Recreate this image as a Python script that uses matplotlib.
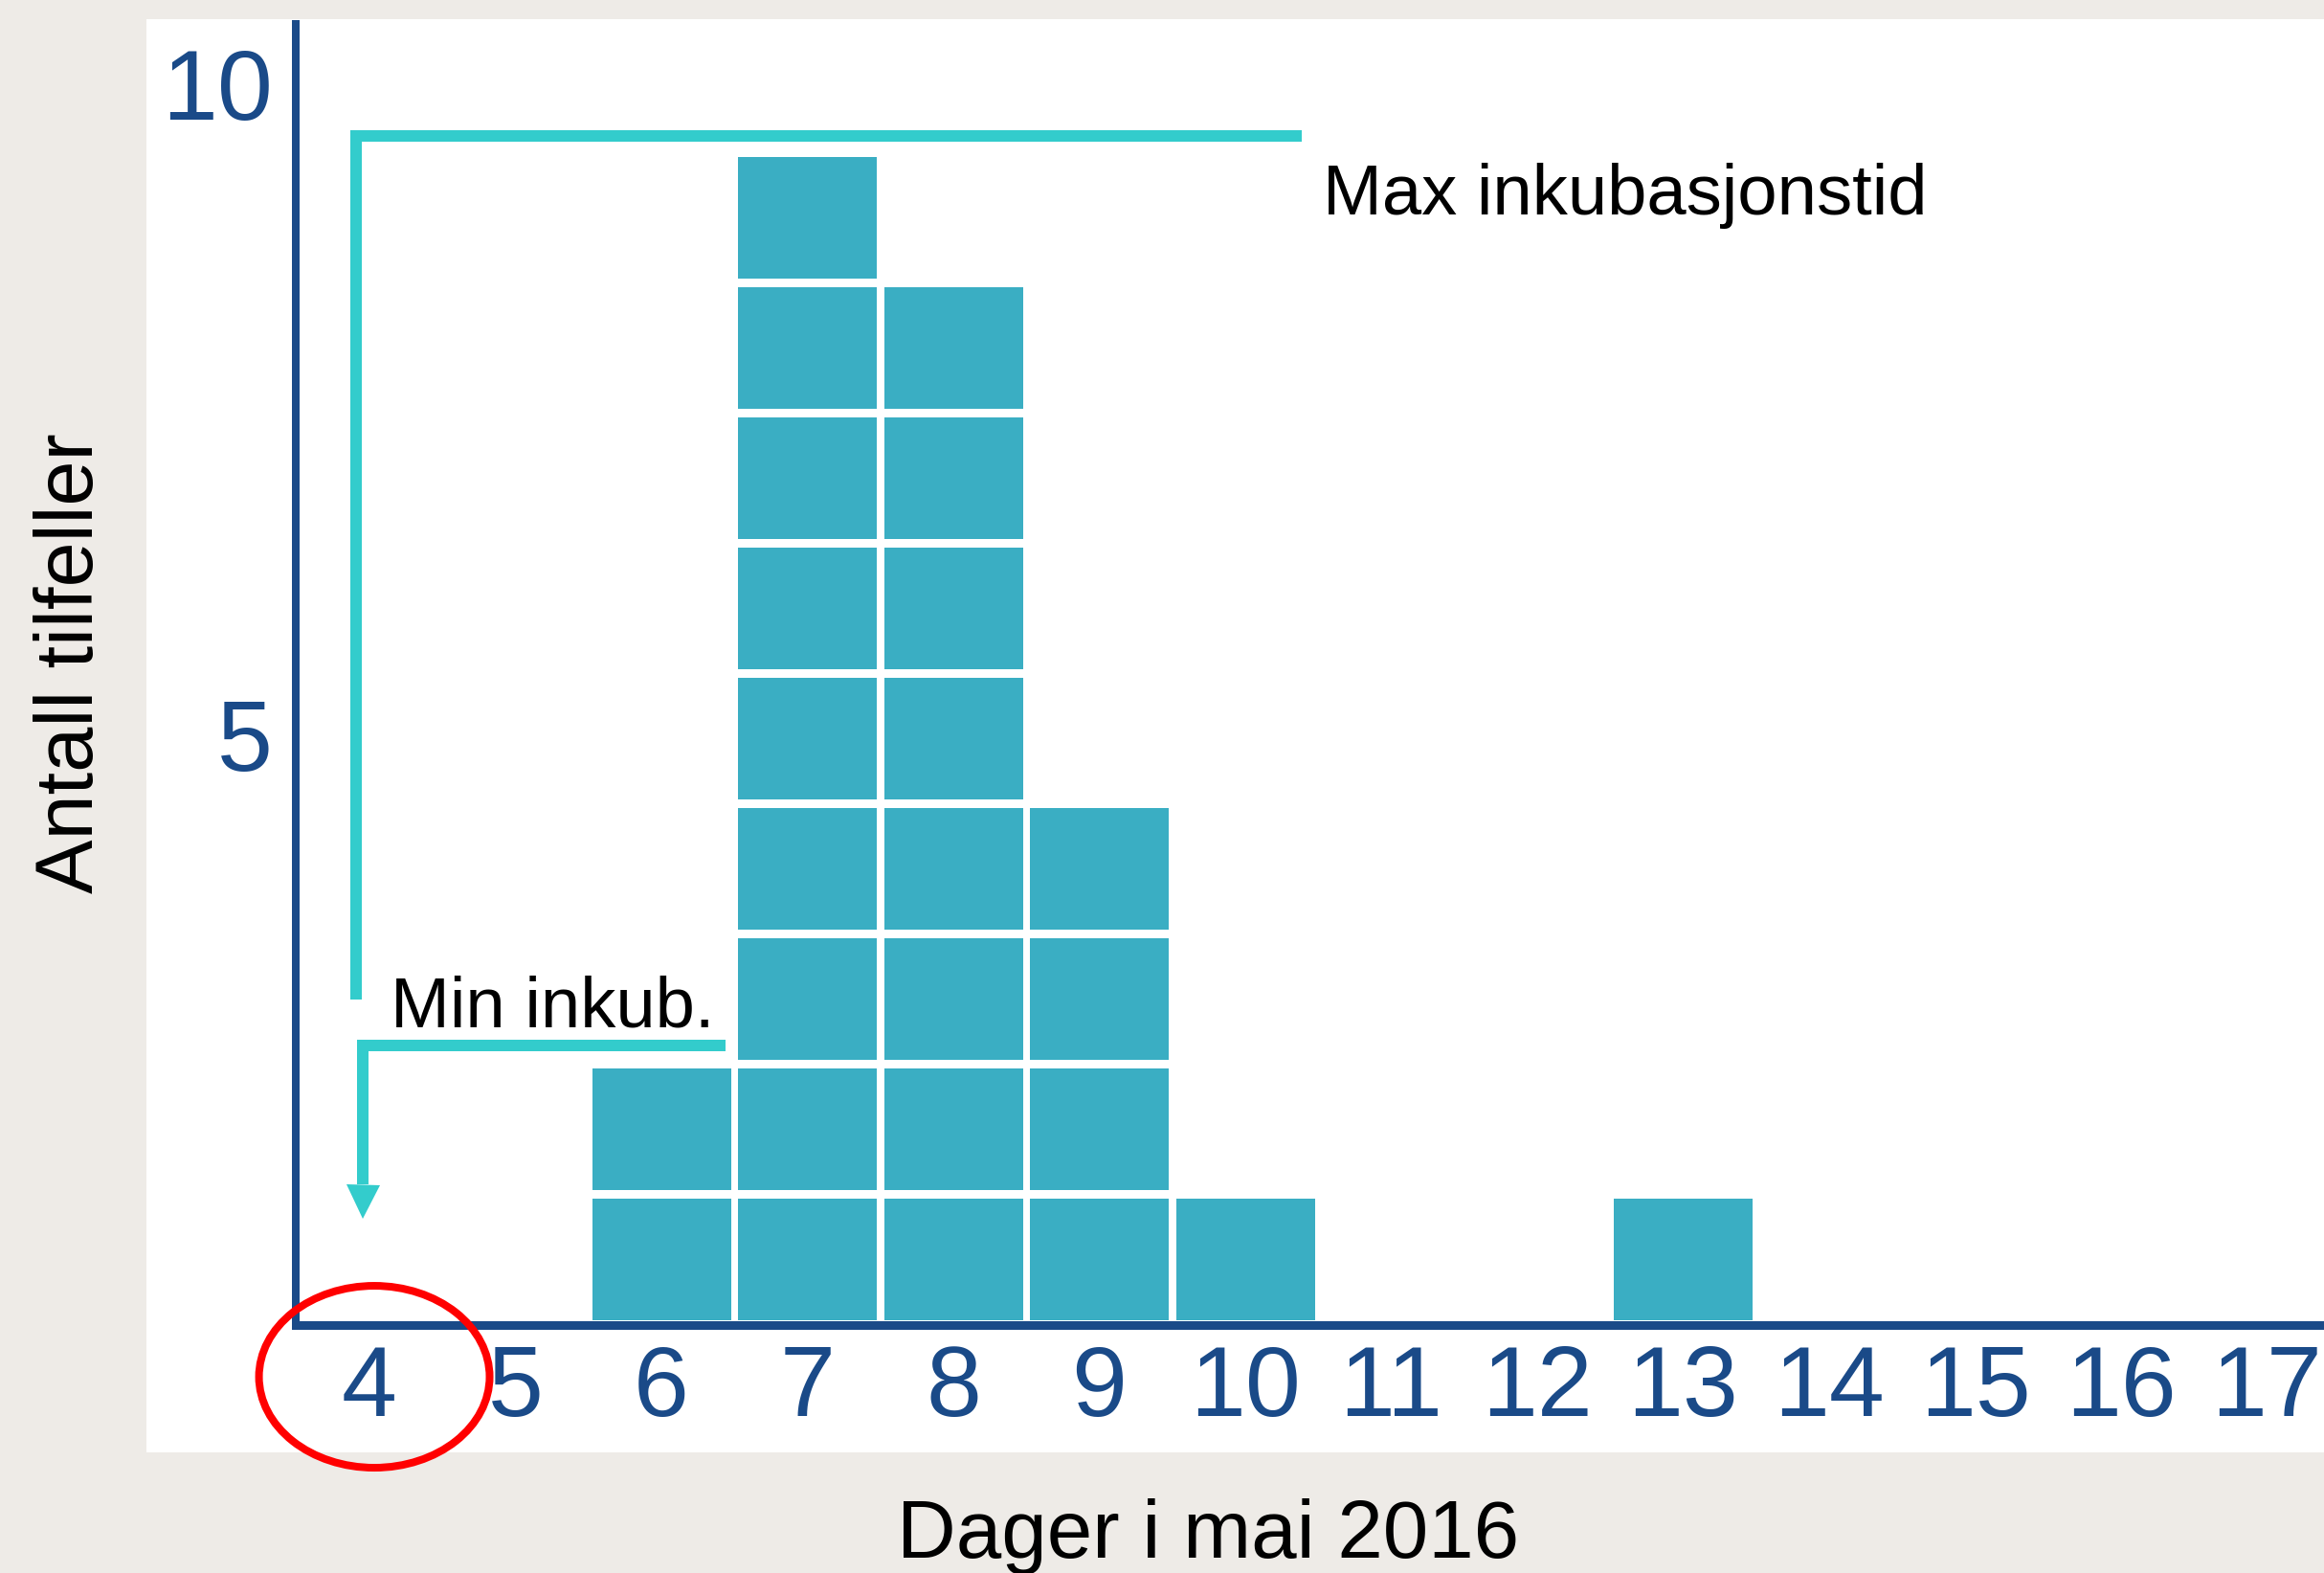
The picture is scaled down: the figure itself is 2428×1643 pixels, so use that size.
import matplotlib
matplotlib.use('Agg')
import matplotlib.pyplot as plt
from matplotlib.patches import Ellipse, Rectangle

# ---------------- data ----------------
day_ticks = [4, 5, 6, 7, 8, 9, 10, 11, 12, 13, 14, 15, 16, 17]
case_days = [6, 7, 8, 9, 10, 13]
case_counts = [2, 9, 8, 4, 1, 1]
y_tick_values = [5, 10]
x_label = 'Dager i mai 2016'
y_label = 'Antall tilfeller'
max_label = 'Max inkubasjonstid'
min_label = 'Min inkub.'

# ---------------- style ----------------
BG = '#EEEBE7'
AXIS = '#1A4A88'
BAR = '#3AAEC3'
CYAN = '#33CCCC'
RED = '#FF0000'
W, H = 2428, 1643
PX = 72 / 100.0  # points per pixel at dpi 100

plt.rcParams['font.family'] = ['Liberation Sans', 'DejaVu Sans']

fig = plt.figure(figsize=(W / 100, H / 100), dpi=100, facecolor=BG)
fig.patches.append(Rectangle((153 / W, (H - 1517) / H), (W - 153) / W, (1517 - 20) / H,
                             transform=fig.transFigure, facecolor='white',
                             edgecolor='none', zorder=-10))

ax = fig.add_axes([309 / W, (H - 1383.5) / H, (W - 309) / W, (1383.5 - 25) / H])
ax.set_facecolor('none')

# stacked unit blocks (one per case)
BAR_W = 0.951
BLOCK_H = 0.934
xs, bottoms = [], []
for d, c in zip(case_days, case_counts):
    for k in range(c):
        xs.append(d)
        bottoms.append(k)
ax.bar(xs, [BLOCK_H] * len(xs), bottom=bottoms, width=BAR_W, color=BAR,
       linewidth=0, zorder=1)

ax.set_xlim(3.495, 17.39)
ax.set_ylim(-0.033, 9.956)

ax.set_xticks(day_ticks)
ax.set_xticklabels([str(d) for d in day_ticks])
ax.set_yticks([v - 0.5 for v in y_tick_values])
ax.set_yticklabels([str(v) for v in y_tick_values])
ax.tick_params(axis='both', length=0, labelsize=75, labelcolor=AXIS)
ax.tick_params(axis='x', pad=15)
ax.tick_params(axis='y', pad=17.5)

for s in ['top', 'right']:
    ax.spines[s].set_visible(False)
ax.spines['left'].set_color(AXIS)
ax.spines['left'].set_linewidth(8 * PX)
ax.spines['bottom'].set_color(AXIS)
ax.spines['bottom'].set_linewidth(9 * PX)
for s in ['left', 'bottom']:
    ax.spines[s].set_zorder(3)

# Max incubation bracket
ax.plot([3.908, 3.908, 10.387], [2.463, 9.096, 9.096], color=CYAN,
        lw=12 * PX, solid_capstyle='butt', solid_joinstyle='miter', zorder=4,
        clip_on=False)
ax.text(10.53, 8.493, max_label, fontsize=53.5, color='black',
        ha='left', va='baseline', zorder=5)

# Min incubation bracket with arrow
ax.plot([6.439, 3.954, 3.954], [2.114, 2.114, 1.044], color=CYAN,
        lw=12 * PX, solid_capstyle='butt', solid_joinstyle='miter', zorder=4)
ax.plot([3.954], [0.912], marker='v', markersize=35 * PX, color=CYAN,
        markeredgewidth=0, zorder=4)
ax.text(4.144, 2.257, min_label, fontsize=53.5, color='black',
        ha='left', va='baseline', zorder=5)

# red circle around day 4
ax.add_patch(Ellipse((4.033, -0.434), 1.580, 1.397, fill=False, edgecolor=RED,
                     linewidth=8 * PX, clip_on=False, zorder=6))

# axis titles
fig.text(75 / W, (H - 692.5) / H, y_label, rotation=90, fontsize=61,
         ha='center', va='center', color='black')
fig.text(1262 / W, (H - 1627) / H, x_label, fontsize=61.5,
         ha='center', va='baseline', color='black')

fig.savefig('out.png', dpi=100, facecolor=fig.get_facecolor())
